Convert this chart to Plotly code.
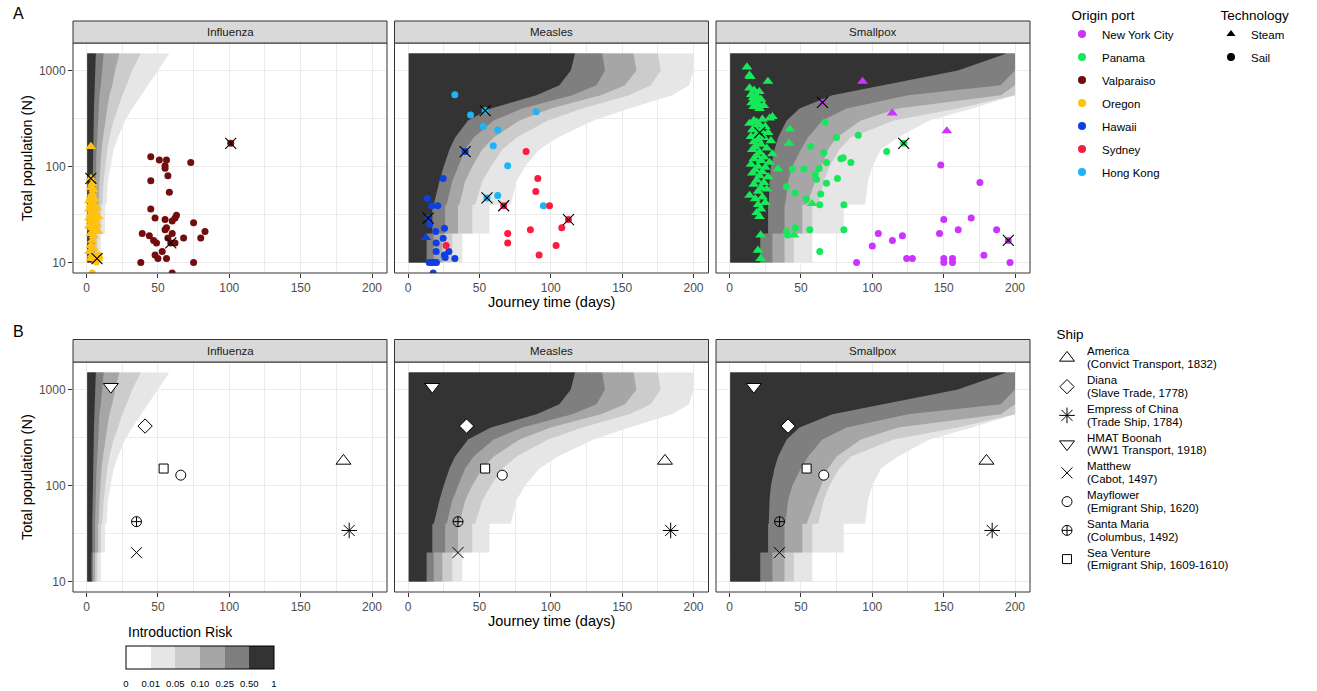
import plotly.graph_objects as go

W, H = 1317, 691
FONT = "Liberation Sans, Arial, Helvetica, sans-serif"

# ---------------- data ----------------
FACETS = ["Influenza", "Measles", "Smallpox"]
X_TICKS = [0, 50, 100, 150, 200]
Y_TICKS = [10, 100, 1000]
Y_TICK_TEXT = ["10", "100", "1000"]

# risk-band boundaries (journey days) at these population sizes
N_GRID = [10, 20, 20, 40, 40, 70, 100, 150, 200, 300, 400, 550, 700, 1000, 1500]
RISK_LABELS = ["0", "0.01", "0.05", "0.10", "0.25", "0.50", "1"]
RISK_COLORS = ["#ffffff", "#e6e6e6", "#cccccc", "#a6a6a6", "#7f7f7f", "#333333"]
DAY_MIN = 0.5

FLU_R01 = [10, 10, 13, 13, 14, 15, 17, 19, 22, 27, 32, 38, 43, 50, 58]
FLU_R05 = [7.5, 7.5, 10, 10, 11, 12, 13, 14.5, 16, 19, 22, 25, 28, 32, 38]
FLU_R10 = [6, 6, 8, 8, 8.5, 9, 9.5, 10.5, 11.5, 13, 14.5, 16, 18, 20, 23]
FLU_R25 = [4.5, 4.5, 6, 6, 6, 6.2, 6.5, 7, 7.5, 8, 8.5, 9, 10, 11, 12]
FLU_R50 = [3.5, 3.5, 4, 4, 4, 4.2, 4.4, 4.6, 4.8, 5, 5.2, 5.5, 5.8, 6.2, 6.5]

MEA_R01 = [38, 38, 57, 57, 72, 76, 82, 92, 105, 130, 155, 185, 197, 200, 200]
MEA_R05 = [31, 31, 45, 45, 47, 52, 58, 66, 76, 98, 122, 155, 170, 177, 175]
MEA_R10 = [24, 24, 35, 35, 36, 40, 45, 52, 60, 78, 100, 135, 152, 160, 158]
MEA_R25 = [18, 18, 26, 26, 27, 31, 35, 40, 46, 60, 80, 115, 132, 138, 136]
MEA_R50 = [13, 13, 17, 17, 18, 22, 25, 29, 33, 42, 58, 90, 106, 114, 117]

SMA_R01 = [58, 58, 80, 80, 95, 97, 100, 106, 118, 140, 170, 200, 200, 200, 200]
SMA_R05 = [45, 45, 58, 58, 62, 66, 70, 77, 85, 115, 160, 200, 200, 200, 200]
SMA_R10 = [38.5, 38.5, 51, 51, 54, 60, 64, 69, 75, 92, 118, 190, 200, 200, 200]
SMA_R25 = [30, 30, 38.5, 38.5, 39, 41, 44, 50, 55, 65, 82, 125, 190, 200, 200]
SMA_R50 = [21.5, 21.5, 27, 27, 27.5, 28, 29, 31.5, 34, 40, 49, 72, 108, 160, 194]

# ---- panel A voyages ----
PORTS = ["New York City", "Panama", "Valparaiso", "Oregon", "Hawaii", "Sydney", "Hong Kong"]
PORT_COLORS = ["#cc33ff", "#17e85a", "#730d0d", "#ffc20e", "#0f3fe0", "#ff1a40", "#1cb5f5"]

VALP_SAIL_DAYS = [45, 51, 56, 55, 55, 73, 57, 45, 58, 45, 48, 55, 60, 62, 63, 75, 56, 55, 39,
                  44, 60, 83, 47, 49, 57, 62, 68, 80, 53, 48, 50, 56, 38, 75, 60, 101, 59]
VALP_SAIL_N = [126, 117, 117, 102, 96, 110, 80, 71, 54, 36, 29, 28, 27, 29, 31, 26, 23, 22, 20,
               19, 20, 21, 17, 16, 18, 16, 18, 18, 13, 12, 11, 11, 10, 10, 7.8, 174, 16]
OREG_STEAM_DAYS = [3, 3, 4, 3, 5, 4, 3, 5, 6, 2, 4, 3, 5, 7, 2, 4, 6, 3, 5, 8, 2, 4, 6, 3, 5,
                   7, 2, 4, 6, 8, 3, 5, 4, 3, 5, 2, 4, 3]
OREG_STEAM_N = [161, 75, 66, 60, 57, 52, 48, 47, 45, 44, 42, 40, 39, 37, 36, 35, 33, 32, 31, 30,
                29, 28, 28, 27, 26, 25, 24, 23, 22, 21, 20, 19, 17, 15, 14, 13, 12, 11]
OREG_SAIL_DAYS = [8.7, 9.1, 6.8, 4, 7.3]
OREG_SAIL_N = [11.9, 11.1, 10.1, 7.8, 11]
FLU_HIT_DAYS = [3, 7.3, 101, 59]
FLU_HIT_N = [75, 11, 174, 16]

HAW_SAIL_DAYS = [24.6, 13.6, 16.6, 20.8, 14.1, 15.2, 19.4, 25.5, 19.7, 24.6, 19.7, 28.6, 25.5,
                 26, 32.8, 14.8, 16.6, 18.3, 19.9, 17.6, 40]
HAW_SAIL_N = [75, 46.5, 39, 39, 29, 25, 21, 22.8, 16, 17.9, 13, 13, 12, 11.3, 11, 10, 10, 10, 10,
              7.8, 143]
HAW_STEAM_DAYS = [12.4]
HAW_STEAM_N = [18.2]
HK_SAIL_DAYS = [32.8, 43.8, 54.1, 52.7, 62.8, 89.7, 59.7, 69.8, 55.3, 62.8, 94.8]
HK_SAIL_N = [557, 344, 382, 260, 240, 371, 164, 102, 47, 50, 39]
SYD_SAIL_DAYS = [82.7, 90.9, 89.5, 67, 99.1, 112.4, 107.7, 85.7, 69.8, 69.8, 103.7, 26.7, 91.8]
SYD_SAIL_N = [143, 75, 55, 39, 39, 28, 23, 22, 20, 16, 15, 15, 12]
MEA_HIT_DAYS = [14.1, 40, 54.1, 55.3, 67, 112.4]
MEA_HIT_N = [29, 143, 382, 47, 39, 28]

NYC_SAIL_DAYS = [148, 175.4, 150.1, 169.3, 160.2, 187.1, 147.1, 104.2, 121.1, 114.1, 100, 178.2,
                 124.1, 128.1, 150.1, 156.2, 150.1, 156.2, 89, 196.5, 195.3, 65.1]
NYC_SAIL_N = [103.5, 68, 28, 29, 22, 22, 20, 20, 19, 17, 14.9, 11.9, 11, 11, 11, 11, 10, 10, 10,
              10, 17, 464]
NYC_STEAM_DAYS = [93.2, 114, 152.2]
NYC_STEAM_N = [768, 359, 234]
PAN_SAIL_DAYS = [67, 74.9, 90.2, 56.9, 66, 67.9, 79.6, 78, 85, 110.1, 122, 44, 52, 62.8, 60, 60.9,
                 75.6, 67.9, 39.8, 45.9, 53.9, 63.9, 63.2, 80.1, 39.8, 40.7, 46.1, 56.2, 80.1, 63.2]
PAN_SAIL_N = [289, 200, 211, 161, 139, 110, 123, 120, 110, 143, 174, 94, 94, 95.5, 82.7, 73.5, 75,
              67, 61.5, 53, 45.7, 51.6, 40, 40, 21, 19.3, 23, 22, 22, 13]
PAN_STEAM_DAYS = [12.2, 14, 14.5, 26.9, 14, 17.2, 20.8, 15.2, 19, 16.5, 22, 18, 15.5, 20, 24, 17,
                  21, 28.1, 30, 23, 17, 19, 14, 21, 25, 18, 16, 22, 27, 19, 15, 24, 20, 17, 29,
                  22, 18, 26, 16, 21, 30, 19, 24, 17, 22, 28, 15, 20, 25, 18, 23, 34, 16, 21,
                  27, 19, 24, 17, 22, 26, 20, 14, 23, 18, 25, 20, 22, 19, 21, 42.2, 41.7, 57.8,
                  45.2, 21.8, 19.9, 21.8]
PAN_STEAM_N = [1083, 888, 860, 768, 655, 620, 600, 560, 540, 520, 500, 480, 460, 450, 430, 420,
               400, 318, 330, 310, 300, 290, 280, 270, 260, 250, 240, 235, 225, 215, 205, 200,
               190, 180, 185, 170, 160, 155, 150, 140, 135, 130, 125, 120, 115, 110, 105, 100,
               98, 92, 88, 94, 85, 80, 78, 72, 68, 65, 60, 58, 55, 50, 48, 46, 42, 40, 36, 33,
               30, 244, 174, 41, 19.3, 19.3, 13.4, 11]
SMA_HIT_DAYS = [65.1, 122, 195.3, 21.1]
SMA_HIT_N = [464, 174, 17, 225]

# ---- panel B ships ----
SHIP_NAMES = ["America", "Diana", "Empress of China", "HMAT Boonah", "Matthew",
              "Mayflower", "Santa Maria", "Sea Venture"]
SHIP_NOTES = ["(Convict Transport, 1832)", "(Slave Trade, 1778)", "(Trade Ship, 1784)",
              "(WW1 Transport, 1918)", "(Cabot, 1497)", "(Emigrant Ship, 1620)",
              "(Columbus, 1492)", "(Emigrant Ship, 1609-1610)"]
SHIP_DAYS = [180, 41, 184, 17, 35, 66, 35, 54]
SHIP_N = [180, 415, 34, 1066, 20, 128, 42, 150]
SHIP_SYMBOLS = ["triangle-up", "diamond", "asterisk-open", "triangle-down", "x-thin-open",
                "circle", "circle-cross-open", "square"]
SHIP_SIZES = [13, 11, 13, 13, 11, 10, 10, 9]

# ---------------- layout helpers ----------------
COL_PX = [(73, 387), (394.5, 708.5), (716, 1030)]
ROW_PX = [(43, 273), (362, 592)]
STRIP_PX = [(21, 43), (339.5, 362)]
NB = "\u00a0\u00a0"


def fx(p):
    return p / W


def fy(p):
    return 1 - p / H


def ship_marker(i):
    sym = SHIP_SYMBOLS[i]
    if sym.endswith("-open"):
        return dict(symbol=sym, size=SHIP_SIZES[i], color="black",
                    line=dict(width=1, color="black"))
    return dict(symbol=sym, size=SHIP_SIZES[i], color="white",
                line=dict(width=1, color="black"))


BOUNDS = {
    "Influenza": [FLU_R01, FLU_R05, FLU_R10, FLU_R25, FLU_R50],
    "Measles": [MEA_R01, MEA_R05, MEA_R10, MEA_R25, MEA_R50],
    "Smallpox": [SMA_R01, SMA_R05, SMA_R10, SMA_R25, SMA_R50],
}

A_SERIES = {
    "Influenza": [
        (VALP_SAIL_DAYS, VALP_SAIL_N, PORT_COLORS[2], "circle"),
        (OREG_STEAM_DAYS, OREG_STEAM_N, PORT_COLORS[3], "triangle-up"),
        (OREG_SAIL_DAYS, OREG_SAIL_N, PORT_COLORS[3], "circle"),
    ],
    "Measles": [
        (HAW_SAIL_DAYS, HAW_SAIL_N, PORT_COLORS[4], "circle"),
        (HAW_STEAM_DAYS, HAW_STEAM_N, PORT_COLORS[4], "triangle-up"),
        (HK_SAIL_DAYS, HK_SAIL_N, PORT_COLORS[6], "circle"),
        (SYD_SAIL_DAYS, SYD_SAIL_N, PORT_COLORS[5], "circle"),
    ],
    "Smallpox": [
        (PAN_STEAM_DAYS, PAN_STEAM_N, PORT_COLORS[1], "triangle-up"),
        (PAN_SAIL_DAYS, PAN_SAIL_N, PORT_COLORS[1], "circle"),
        (NYC_SAIL_DAYS, NYC_SAIL_N, PORT_COLORS[0], "circle"),
        (NYC_STEAM_DAYS, NYC_STEAM_N, PORT_COLORS[0], "triangle-up"),
    ],
}
A_HITS = {
    "Influenza": (FLU_HIT_DAYS, FLU_HIT_N),
    "Measles": (MEA_HIT_DAYS, MEA_HIT_N),
    "Smallpox": (SMA_HIT_DAYS, SMA_HIT_N),
}

fig = go.Figure()
layout = {}
shapes = []
annotations = []

for r in range(2):
    for c, facet in enumerate(FACETS):
        k = r * 3 + c + 1
        xa = "x" if k == 1 else f"x{k}"
        ya = "y" if k == 1 else f"y{k}"
        # risk bands
        for lvl, bound in enumerate(BOUNDS[facet]):
            fig.add_trace(go.Scatter(
                x=[DAY_MIN] + bound + [DAY_MIN],
                y=[N_GRID[0]] + N_GRID + [N_GRID[-1]],
                fill="toself", mode="lines",
                line=dict(width=0, color=RISK_COLORS[lvl + 1]),
                fillcolor=RISK_COLORS[lvl + 1],
                xaxis=xa, yaxis=ya, showlegend=False, hoverinfo="skip"))
        if r == 0:
            for dd, nn, col, sym in A_SERIES[facet]:
                fig.add_trace(go.Scatter(
                    x=dd, y=nn, mode="markers",
                    marker=dict(color=col, symbol=sym,
                                size=9.5 if sym == "triangle-up" else 7,
                                line=dict(width=0)),
                    xaxis=xa, yaxis=ya, showlegend=False))
            hd, hn = A_HITS[facet]
            fig.add_trace(go.Scatter(
                x=hd, y=hn, mode="markers",
                marker=dict(symbol="x-thin-open", size=11, color="black",
                            line=dict(width=1.1, color="black")),
                xaxis=xa, yaxis=ya, showlegend=False))
        else:
            for i in range(len(SHIP_NAMES)):
                fig.add_trace(go.Scatter(
                    x=[SHIP_DAYS[i]], y=[SHIP_N[i]], mode="markers",
                    marker=ship_marker(i),
                    xaxis=xa, yaxis=ya, showlegend=False))

        x0, x1 = COL_PX[c]
        y0, y1 = ROW_PX[r]
        axis_common = dict(showline=False, zeroline=False, ticks="outside", ticklen=4,
                           tickcolor="#333333", tickwidth=1,
                           tickfont=dict(size=12, color="#4d4d4d", family=FONT),
                           showgrid=True, gridcolor="#ebebeb", gridwidth=1.1, fixedrange=True)
        layout["xaxis" if k == 1 else f"xaxis{k}"] = dict(
            axis_common, domain=[fx(x0), fx(x1)], anchor=ya, range=[-9.5, 210.5],
            tickmode="array", tickvals=X_TICKS,
            minor=dict(tickvals=[25, 75, 125, 175], showgrid=True, gridcolor="#ebebeb",
                       gridwidth=0.55, ticks=""))
        yax = dict(axis_common, domain=[fy(y1), fy(y0)], anchor=xa, type="log",
                   range=[0.891, 3.285], tickmode="array", tickvals=Y_TICKS,
                   ticktext=Y_TICK_TEXT,
                   minor=dict(tickvals=[31.62, 316.2], showgrid=True, gridcolor="#ebebeb",
                              gridwidth=0.55, ticks=""))
        if c > 0:
            yax["showticklabels"] = False
            yax["ticks"] = ""
        layout["yaxis" if k == 1 else f"yaxis{k}"] = yax

        # panel border
        shapes.append(dict(type="rect", xref="paper", yref="paper",
                           x0=fx(x0), x1=fx(x1), y0=fy(y1), y1=fy(y0),
                           line=dict(color="#333333", width=1), fillcolor="rgba(0,0,0,0)",
                           layer="above"))
        # strip
        s0, s1 = STRIP_PX[r]
        shapes.append(dict(type="rect", xref="paper", yref="paper",
                           x0=fx(x0), x1=fx(x1), y0=fy(s1), y1=fy(s0),
                           line=dict(color="#333333", width=1), fillcolor="#d9d9d9",
                           layer="above"))
        annotations.append(dict(text=facet, xref="paper", yref="paper",
                                x=fx((x0 + x1) / 2), y=fy((s0 + s1) / 2),
                                showarrow=False, xanchor="center", yanchor="middle",
                                font=dict(size=11.5, color="#1a1a1a", family=FONT)))

# axis titles & panel tags
for r in range(2):
    y0, y1 = ROW_PX[r]
    annotations.append(dict(text="Journey time (days)", xref="paper", yref="paper",
                            x=fx(551.5), y=fy(y1 + 29), showarrow=False,
                            xanchor="center", yanchor="middle",
                            font=dict(size=14.5, color="black", family=FONT)))
    annotations.append(dict(text="Total population (N)", xref="paper", yref="paper",
                            x=fx(27), y=fy((y0 + y1) / 2), showarrow=False, textangle=-90,
                            xanchor="center", yanchor="middle",
                            font=dict(size=14.5, color="black", family=FONT)))
annotations.append(dict(text="A", xref="paper", yref="paper", x=fx(11), y=fy(14),
                        showarrow=False, xanchor="left", yanchor="middle",
                        font=dict(size=16, color="black", family=FONT)))
annotations.append(dict(text="B", xref="paper", yref="paper", x=fx(11), y=fy(331),
                        showarrow=False, xanchor="left", yanchor="middle",
                        font=dict(size=16, color="black", family=FONT)))
annotations.append(dict(text="Introduction Risk", xref="paper", yref="paper",
                        x=fx(126), y=fy(632), showarrow=False, xanchor="left",
                        yanchor="middle",
                        font=dict(size=14, color="black", family=FONT)))

# legend entries
for i, port in enumerate(PORTS):
    fig.add_trace(go.Scatter(x=[None], y=[None], mode="markers", name=port,
                             marker=dict(color=PORT_COLORS[i], symbol="circle", size=8),
                             legend="legend", legendgroup=f"p{i}"))
for i, (tech, sym) in enumerate([("Steam", "triangle-up"), ("Sail", "circle")]):
    fig.add_trace(go.Scatter(x=[None], y=[None], mode="markers", name=tech,
                             marker=dict(color="black", symbol=sym, size=8),
                             legend="legend2", legendgroup=f"t{i}"))
for i in range(len(SHIP_NAMES)):
    fig.add_trace(go.Scatter(
        x=[None], y=[None], mode="markers",
        name=(f"<span style='font-size:11.5px'>{SHIP_NAMES[i]}</span><br>"
              f"<span style='font-size:11.5px'>{SHIP_NOTES[i]}</span>"),
        marker=ship_marker(i), legend="legend3", legendgroup=f"s{i}"))

# colour bar for introduction risk
n_lv = len(RISK_COLORS)
cscale = []
for i, col in enumerate(RISK_COLORS):
    cscale.append([i / n_lv, col])
    cscale.append([(i + 1) / n_lv, col])
fig.add_trace(go.Scatter(
    x=[-100], y=[100], mode="markers", xaxis="x", yaxis="y", showlegend=False,
    hoverinfo="skip",
    marker=dict(size=1, opacity=0, color=[0], cmin=0, cmax=n_lv, colorscale=cscale,
                showscale=True,
                colorbar=dict(orientation="h", x=fx(126), xanchor="left", y=fy(646),
                              yanchor="top", len=148, lenmode="pixels", thickness=23,
                              thicknessmode="pixels", outlinecolor="black", outlinewidth=1,
                              tickmode="array", tickvals=list(range(n_lv + 1)),
                              ticktext=RISK_LABELS, ticks="outside", ticklen=7,
                              tickcolor="rgba(0,0,0,0)", xpad=0, ypad=0,
                              tickfont=dict(size=9.5, color="black", family=FONT)))))

legend_common = dict(xanchor="left", yanchor="top", bgcolor="rgba(0,0,0,0)",
                     font=dict(size=11.5, color="black", family=FONT),
                     itemclick=False, itemdoubleclick=False)
fig.update_layout(
    width=W, height=H, margin=dict(l=0, r=0, t=0, b=0),
    paper_bgcolor="white", plot_bgcolor="white",
    font=dict(family=FONT),
    shapes=shapes, annotations=annotations,
    legend=dict(legend_common, x=fx(1062), y=fy(2), tracegroupgap=4,
                title=dict(text=NB + "Origin port", font=dict(size=13.5, family=FONT))),
    legend2=dict(legend_common, x=fx(1211), y=fy(2), tracegroupgap=4,
                 title=dict(text=NB + "Technology", font=dict(size=13.5, family=FONT))),
    legend3=dict(legend_common, x=fx(1047), y=fy(321), tracegroupgap=0,
                 font=dict(size=9.9, color="black", family=FONT),
                 title=dict(text=NB + "Ship", font=dict(size=13.5, family=FONT))),
    **layout)

fig.write_html("out.html")
